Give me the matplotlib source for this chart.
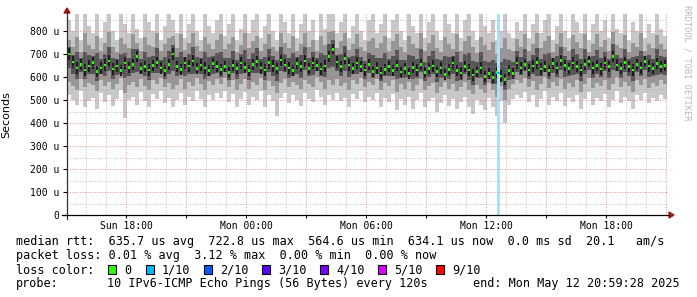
import matplotlib
matplotlib.use("Agg")
import matplotlib.pyplot as plt
from matplotlib.lines import Line2D
from matplotlib.patches import Rectangle, Polygon
import numpy as np

# hours relative to Mon 00:00, one sample every 12 minutes
start_hour = -8.95
step_hours = 0.2

# median rtt in microseconds
med = [700, 665, 640, 655, 630, 648, 662, 625, 640, 652, 670, 635, 648, 628, 660, 642, 655, 690, 638,
       646, 630, 650, 664, 640, 628, 655, 700, 645, 632, 660, 648, 670, 636, 652, 640, 628, 658, 645,
       632, 645, 620, 650, 638, 660, 642, 628, 655, 668, 640, 630, 662, 648, 636, 675, 652, 640, 628,
       658, 645, 670, 638, 660, 650, 635, 648, 690, 720, 665, 645, 680, 652, 638, 660, 645, 630, 655,
       625, 640, 618, 632, 645, 628, 650, 622, 638, 615, 642, 630, 655, 620, 636, 648, 625, 640, 612,
       632, 660, 628, 618, 645, 630, 608, 625, 640, 602, 615, 598, 620, 605, 590, 628, 615, 660,
       640, 655, 630, 648, 662, 635, 645, 628, 658, 640, 672, 650, 636, 660, 645, 630, 655, 668, 640,
       650, 634, 660, 645, 690, 652, 638, 662, 646, 630, 655, 640, 668, 648, 636, 658, 645, 650]

# fastest / slowest ping
lo = [520, 500, 480, 540, 470, 495, 510, 460, 530, 490, 520, 475, 505, 545, 420, 500, 515, 480, 535,
      495, 470, 525, 505, 540, 485, 510, 470, 500, 530, 480, 515, 495, 540, 505, 470, 520, 500, 530,
      510, 540, 490, 525, 470, 505, 535, 480, 515, 500, 540, 470, 520, 495, 430, 510, 530, 485, 520,
      500, 475, 530, 505, 490, 545, 515, 480, 520, 500, 530, 495, 510, 470, 525, 505, 540, 490, 515,
      500, 530, 470, 510, 490, 525, 455, 505, 480, 515, 460, 500, 530, 470, 495, 510, 450, 485, 520,
      475, 505, 460, 490, 515, 470, 440, 500, 480, 455, 510, 470, 430, 495, 400, 480, 505, 520,
      510, 535, 490, 520, 470, 505, 540, 480, 515, 495, 530, 475, 510, 490, 520, 460, 505, 535, 480,
      510, 495, 525, 470, 500, 540, 485, 515, 495, 460, 520, 500, 530, 485, 510, 495, 520, 505]
hi = [850, 800, 880, 760, 880, 820, 790, 880, 770, 840, 880, 800, 760, 880, 830, 790, 880, 810, 770,
      880, 840, 800, 880, 760, 820, 880, 850, 790, 880, 770, 830, 880, 800, 760, 880, 820, 790, 850,
      880, 780, 830, 880, 760, 810, 880, 790, 850, 880, 770, 820, 880, 800, 760, 880, 840, 790, 880,
      770, 830, 880, 800, 850, 760, 880, 810, 880, 880, 790, 840, 880, 770, 820, 880, 800, 760, 850,
      880, 790, 830, 880, 770, 850, 880, 800, 760, 880, 820, 790, 880, 770, 840, 880, 800, 760, 880,
      830, 790, 880, 770, 850, 880, 800, 760, 880, 820, 790, 850, 760, 800, 880, 790, 770, 840,
      800, 880, 770, 830, 880, 790, 850, 880, 760, 820, 880, 800, 770, 880, 840, 790, 880, 760, 830,
      880, 800, 850, 770, 880, 810, 790, 880, 760, 840, 800, 880, 770, 830, 790, 880, 810, 780]

# middle pings of the smoke
mlo = [580, 560, 545, 590, 555, 575, 565, 540, 585, 560, 580, 550, 570, 595, 530, 565, 580, 555, 590,
       560, 545, 585, 570, 595, 555, 575, 550, 565, 590, 548, 578, 560, 595, 570, 545, 582, 565, 590,
       570, 595, 555, 585, 545, 570, 590, 550, 578, 565, 595, 545, 582, 560, 530, 575, 590, 555, 580,
       565, 548, 588, 570, 558, 600, 578, 550, 585, 565, 590, 560, 575, 545, 585, 570, 595, 555, 578,
       565, 590, 545, 575, 560, 585, 535, 570, 550, 578, 540, 565, 590, 545, 560, 575, 530, 555, 580,
       548, 570, 538, 558, 578, 545, 525, 565, 550, 530, 572, 545, 515, 560, 500, 550, 570, 585,
       575, 595, 555, 582, 545, 570, 598, 552, 578, 562, 592, 548, 575, 558, 585, 535, 570, 595, 552,
       575, 562, 588, 545, 568, 600, 555, 580, 562, 535, 585, 565, 592, 552, 575, 562, 585, 570]
mhi = [760, 730, 775, 710, 790, 740, 720, 780, 715, 750, 795, 730, 710, 770, 745, 725, 785, 750, 715,
       775, 740, 730, 790, 712, 745, 770, 780, 725, 785, 718, 748, 790, 735, 712, 775, 745, 722, 760,
       785, 720, 745, 775, 710, 738, 790, 725, 755, 780, 715, 742, 785, 732, 712, 790, 750, 725, 780,
       715, 745, 792, 730, 760, 712, 778, 740, 795, 800, 728, 755, 790, 718, 742, 785, 732, 712, 758,
       770, 725, 748, 780, 712, 755, 785, 730, 710, 778, 742, 725, 790, 712, 750, 782, 728, 708, 775,
       745, 722, 788, 712, 758, 780, 730, 705, 775, 740, 718, 752, 700, 725, 770, 722, 712, 765,
       730, 785, 712, 745, 790, 725, 758, 780, 708, 742, 792, 730, 715, 782, 752, 728, 788, 710, 745,
       785, 732, 760, 715, 795, 740, 725, 782, 710, 748, 730, 790, 715, 745, 725, 782, 742, 722]

# the one sample with loss (1/10)
loss_hour = [12.62]
loss_med = [618]

tick_hours = [-6, 0, 6, 12, 18]
tick_labels = ["Sun 18:00", "Mon 00:00", "Mon 06:00", "Mon 12:00", "Mon 18:00"]

loss_names = ["0", "1/10", "2/10", "3/10", "4/10", "5/10", "9/10"]
loss_colors = ["#26ff00", "#00b8ff", "#0059ff", "#5e00ff", "#7e00ff", "#dd00ff", "#ff0000"]

W, H = 697, 297
fig = plt.figure(figsize=(W / 100, H / 100), dpi=100)
fig.patch.set_facecolor("white")

def fx(x):
    return x / W

def fy(y):
    return 1 - y / H

ax = fig.add_axes([fx(67), fy(215), 600 / W, 201 / H])
ax.set_xlim(start_hour, start_hour + 30)
ax.set_ylim(0, 874)

med = np.array(med)
lo = np.array(lo)
hi = np.array(hi)
mlo = np.array(mlo)
mhi = np.array(mhi)
t = start_hour + step_hours * (np.arange(len(med)) + 0.5)
w = step_hours * 1.02

# smoke, outside in
ax.bar(t, hi - lo, bottom=lo, width=w, color="#c8c8c8", linewidth=0, zorder=1)
ax.bar(t, mhi - mlo, bottom=mlo, width=w, color="#969696", linewidth=0, zorder=1.1)
dlo = (mlo + med) / 2
dhi = (mhi + med) / 2
ax.bar(t, dhi - dlo, bottom=dlo, width=w, color="#555555", linewidth=0, zorder=1.2)
ax.bar(t, 50, bottom=med - 25, width=w * 0.5, color="#1c1c1c", linewidth=0, zorder=1.3)

# loss background bar
ax.bar(loss_hour, 874, width=0.15, color="#aae2fa", linewidth=0, zorder=1.5)

# grid (drawn over the smoke like rrdtool)
for v in range(50, 874, 50):
    if v % 100 == 0:
        ax.axhline(v, color="#e07070", alpha=0.7, lw=0.72, ls=(0, (1, 1.5)), zorder=2)
    else:
        ax.axhline(v, color="#a0a0a0", alpha=0.6, lw=0.72, ls=(0, (1, 1.5)), zorder=2)
for hr in range(-8, 22):
    if hr % 3 == 0:
        ax.axvline(hr, color="#e07070", alpha=0.7, lw=0.72, ls=(0, (1, 1.5)), zorder=2)
    else:
        ax.axvline(hr, color="#a0a0a0", alpha=0.6, lw=0.72, ls=(0, (1, 1.5)), zorder=2)

# median
ax.bar(t, 11, bottom=med - 5.5, width=step_hours * 0.55, color="#26ff00", linewidth=0, zorder=3)
ax.bar(loss_hour, 11, bottom=np.array(loss_med) - 5.5, width=0.12, color="#00b8ff",
       linewidth=0, zorder=3)

for s in ax.spines.values():
    s.set_visible(False)

ax.set_yticks(range(0, 801, 100))
ax.set_yticklabels(["0"] + ["%d u" % v for v in range(100, 801, 100)],
                   family="DejaVu Sans Mono", fontsize=7)
xt = list(range(-6, 21, 3))
ax.set_xticks(xt)
ax.set_xticklabels([tick_labels[tick_hours.index(h)] if h in tick_hours else "" for h in xt],
                   family="DejaVu Sans Mono", fontsize=7)
ax.tick_params(axis="y", length=3, width=0.8, pad=2.5)
ax.tick_params(axis="x", length=2.5, width=0.8, pad=2)
ax.set_ylabel("Seconds", fontsize=8)
ax.yaxis.set_label_coords(fx(11 - 67) * W / 600, 0.5)

# axis lines with arrows
fig.add_artist(Line2D([fx(62), fx(669)], [fy(215), fy(215)], color="black", lw=0.9))
fig.add_artist(Line2D([fx(67), fx(67)], [fy(219), fy(12)], color="#303030", lw=0.9))
fig.add_artist(Polygon([[fx(669), fy(212)], [fx(674), fy(215)], [fx(669), fy(218)]],
                       closed=True, color="#a01818", transform=fig.transFigure))
fig.add_artist(Polygon([[fx(64), fy(13)], [fx(67), fy(8)], [fx(70), fy(13)]],
                       closed=True, color="#a01818", transform=fig.transFigure))

fig.text(fx(687), fy(5), "RRDTOOL / TOBI OETIKER", rotation=270, va="top", ha="center",
         family="DejaVu Sans Mono", fontsize=6.2, color="#b8b8b8")

mono = dict(family="DejaVu Sans Mono", fontsize=8.5, va="center", ha="left")
fig.text(fx(16), fy(241), "median rtt:  635.7 us avg  722.8 us max  564.6 us min  "
         "634.1 us now  0.0 ms sd  20.1   am/s", **mono)
fig.text(fx(16), fy(256), "packet loss: 0.01 % avg  3.12 % max  0.00 % min  0.00 % now", **mono)
fig.text(fx(16), fy(270), "loss color:", **mono)
box_x = [108, 146, 204, 262, 320, 378, 436]
for bx, name, c in zip(box_x, loss_names, loss_colors):
    fig.add_artist(Rectangle((fx(bx), fy(274)), 8 / W, 9 / H, facecolor=c, edgecolor="black",
                             lw=0.8, transform=fig.transFigure))
    fig.text(fx(bx + 16), fy(270), name, **mono)
fig.text(fx(16), fy(284), "probe:", **mono)
fig.text(fx(107), fy(284), "10 IPv6-ICMP Echo Pings (56 Bytes) every 120s", **mono)
fig.text(fx(680), fy(284), "end: Mon May 12 20:59:28 2025", **{**mono, "ha": "right"})

fig.savefig("out.png", dpi=100, facecolor="white")
